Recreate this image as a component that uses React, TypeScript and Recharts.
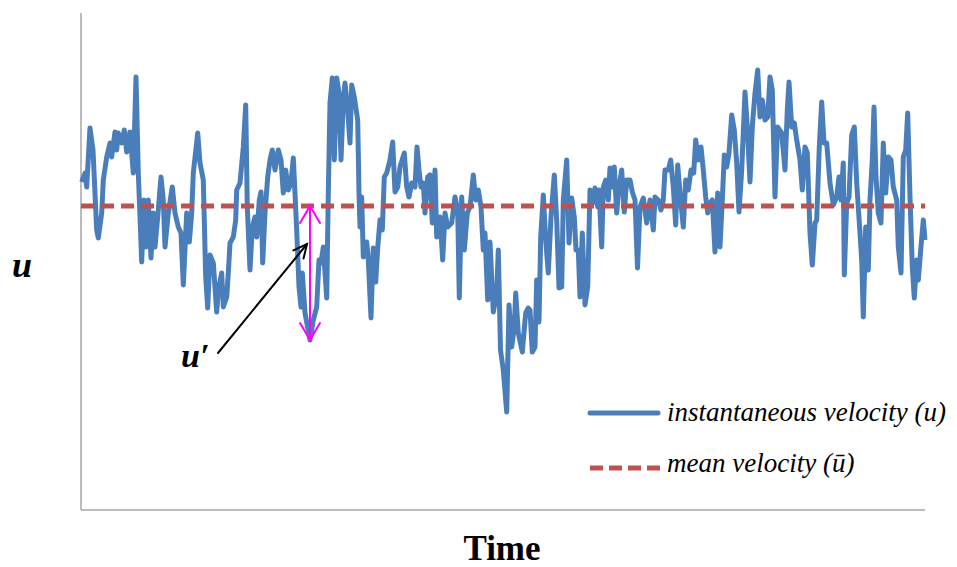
import React from "react";
import { LineChart, Line, XAxis, YAxis, ReferenceLine } from "recharts";

// Velocity signal: time in arbitrary units, u in arbitrary velocity units.
const time = [
  0.7, 4, 5.7, 9, 12, 15.7, 17.3, 20.7, 22.3, 25.7, 29, 30.7, 34, 35.7, 37.3, 40.7, 43.3, 45.7, 49, 52.3,
  55, 57.3, 59, 60.7, 63, 65, 67.3, 70, 72.3, 74, 76.7, 80, 82.3, 84, 87.3, 91.3, 94, 97.3, 100, 102.3,
  105.7, 108.3, 110.7, 112.3, 116.7, 119, 122.3, 124.7, 126.7, 129, 132.3, 135.7, 137.3, 140.7, 142.3, 145.7, 147.3, 149, 152.3, 154.7,
  155.7, 159, 162.3, 164.7, 166.3, 169, 171.3, 174, 175.7, 178.3, 180, 181.7, 184, 186.7, 189, 191.3, 194, 197.3, 200, 202.3,
  204.7, 207.3, 210, 212.3, 214, 215.7, 218, 220, 221.3, 224, 229, 232.3, 235.7, 238, 240, 242.3, 245.7, 247.3, 249, 251.3,
  253.3, 255.7, 258, 260, 262.3, 264, 266.7, 269, 270.7, 273.3, 276.7, 278, 279, 280.7, 282.3, 285.7, 287.3, 290, 292.3, 294.7,
  296.7, 299, 301.3, 303.3, 305.7, 309, 311.7, 314, 316.7, 319, 323.3, 325.7, 328, 330.7, 334, 336, 338, 340, 342.3, 344,
  346.7, 349, 351.3, 354, 355.7, 359, 361.7, 364, 366.7, 370.7, 374, 376.7, 378.3, 380.7, 383.3, 386.3, 389, 392.3, 394.7, 397.3,
  400, 402.3, 404, 406.7, 409, 412.3, 415.7, 417.3, 419.5, 422.3, 425.7, 428, 430.7, 433.3, 434.7, 437.3, 441.3, 444.7, 447.3, 449,
  451.3, 454, 455.7, 458, 459.7, 462.3, 464.7, 467.3, 470, 473.3, 475.7, 478, 480.7, 482.3, 485.7, 488, 490.7, 493.3, 495, 497.3,
  499, 501.3, 504, 506.7, 509, 511.7, 514, 516.7, 518, 520.7, 522.3, 524.7, 527.3, 529, 531.3, 533.3, 535.7, 538, 540.7, 543.3,
  545.7, 549, 551.3, 554, 556.5, 559, 562.3, 565.7, 569, 572.3, 574, 577.3, 580, 582.3, 584, 587.3, 589.7, 592.3, 594.7, 596.7,
  599, 602.3, 604.7, 607.3, 610, 612.7, 614.7, 617.3, 620, 622.3, 624.7, 626.7, 629, 631.3, 634, 636.7, 639, 641.3, 643.3, 645.7,
  648, 650.7, 653.3, 655.7, 658, 660.7, 664, 666.3, 669, 671.3, 674, 676.7, 679, 681.3, 684, 686.7, 689, 691.3, 694, 696.5,
  700.7, 704, 706.3, 708, 710.7, 713.3, 715.7, 719, 721.3, 724, 726.3, 729, 731.3, 734, 735.7, 738.3, 740.7, 743, 745.7, 749,
  752.3, 755.7, 758, 760, 762.3, 763.3, 765.7, 768, 770.7, 773.3, 775.7, 779, 780.7, 782.3, 784.7, 787.3, 789, 791.3, 793, 795,
  797.3, 800, 802.3, 804.7, 807.3, 810, 812.3, 815.7, 817.3, 820, 822.3, 824.7, 826.7, 829, 831.3, 833.3, 835.7, 837.3, 839.7, 842.3,
  844,
];

const velocity = [
  32.8, 33.7, 32.3, 38.2, 36.0, 28.0, 27.2, 29.7, 33.0, 35.3, 36.7, 35.3, 37.8, 36.0, 37.7, 36.7, 38.0, 35.8, 37.8, 33.7,
  43.3, 33.7, 29.3, 24.8, 31.0, 26.3, 31.0, 25.2, 29.7, 26.3, 29.3, 33.3, 31.0, 26.3, 29.7, 32.3, 29.7, 28.3, 27.7, 22.5,
  29.7, 26.8, 29.7, 33.7, 37.7, 34.7, 33.0, 23.3, 20.2, 25.5, 24.7, 19.8, 22.0, 23.7, 20.3, 21.3, 23.7, 26.7, 27.3, 29.0,
  32.0, 32.7, 36.3, 40.5, 30.3, 24.0, 28.3, 29.3, 27.3, 31.0, 31.8, 24.7, 29.7, 33.3, 35.0, 36.0, 34.0, 36.0, 35.0, 31.7,
  34.0, 32.0, 32.7, 35.2, 31.7, 28.0, 22.3, 20.3, 23.7, 19.7, 17.0, 19.0, 20.3, 25.0, 24.7, 26.3, 21.2, 31.7, 40.7, 43.2,
  35.0, 43.2, 41.7, 35.0, 41.0, 42.7, 40.0, 36.7, 42.5, 41.3, 39.0, 31.7, 28.3, 31.3, 25.3, 26.8, 25.0, 19.2, 26.2, 22.8,
  26.2, 29.0, 28.0, 33.3, 33.7, 35.0, 36.8, 31.8, 32.3, 34.3, 35.7, 32.3, 31.3, 32.7, 32.3, 36.3, 34.0, 32.3, 32.7, 29.7,
  33.3, 33.5, 28.7, 34.0, 27.3, 29.3, 25.0, 29.7, 28.3, 28.7, 31.3, 30.0, 21.2, 31.3, 26.0, 29.7, 30.3, 33.5, 31.0, 32.0,
  30.3, 26.0, 27.7, 21.0, 26.8, 19.8, 21.7, 26.0, 16.0, 14.0, 9.8, 20.5, 16.3, 18.3, 21.7, 17.7, 15.8, 19.7, 20.2, 20.0,
  15.8, 16.3, 23.0, 18.8, 27.3, 31.5, 27.0, 23.7, 29.3, 33.5, 29.0, 22.2, 22.3, 31.0, 35.0, 26.7, 31.2, 29.3, 26.0, 26.0,
  21.3, 27.7, 20.5, 22.3, 32.0, 30.7, 32.2, 30.3, 32.0, 26.3, 32.3, 33.0, 31.0, 34.2, 32.3, 34.3, 29.7, 32.3, 34.0, 29.8,
  33.0, 33.0, 31.8, 31.0, 24.2, 30.3, 31.2, 28.7, 31.0, 28.0, 31.3, 31.0, 30.0, 31.0, 34.0, 34.0, 35.0, 32.3, 28.5, 34.5,
  31.7, 28.3, 33.0, 32.0, 34.0, 33.7, 37.0, 35.0, 36.3, 34.0, 31.3, 29.7, 30.7, 31.0, 25.8, 31.7, 26.3, 31.0, 35.5, 34.3,
  35.7, 39.5, 38.0, 34.7, 29.8, 34.0, 41.8, 38.3, 32.8, 38.3, 41.7, 44.0, 39.3, 41.0, 39.0, 39.3, 43.3, 42.0, 31.3, 38.3,
  37.7, 34.0, 40.0, 42.8, 38.3, 38.7, 37.0, 35.0, 32.0, 36.3, 35.7, 27.7, 24.5, 28.7, 29.0, 36.3, 40.8, 36.7, 36.7, 32.7,
  30.5, 31.3, 33.3, 31.0, 34.7, 23.5, 30.7, 31.3, 37.5, 38.3, 32.7, 27.7, 25.0, 19.3, 28.3, 24.0, 31.0, 35.0, 40.3, 33.3,
  29.7, 28.7, 36.7, 31.7, 35.3, 35.0, 32.3, 31.0, 26.3, 23.7, 35.3, 36.0, 39.7, 31.3, 24.3, 21.2, 25.0, 23.0, 26.0, 29.0,
  27.0,
];

const meanVelocity = 30.4;

// u' annotation: deepest dip below the mean, and the pointer to it
const dipTime = 229;
const dipVelocity = 17.0;
const pointerFrom = { x: 137, y: 15.7 };
const pointerTo = { x: 226, y: 26.6 };

const data = time.map((t, i) => ({ t, u: velocity[i] }));

const BLUE = "#4a7ebb";
const RED = "#c0504d";
const AXIS = "#a6a6a6";
const SERIF = '"Liberation Serif", "Times New Roman", serif';

// double-headed magenta arrow (open heads)
function DoubleArrow(props: any) {
  const { x1, y1, x2, y2 } = props;
  const top = Math.min(y1, y2);
  const bot = Math.max(y1, y2);
  return (
    <g stroke="#ff00ff" strokeWidth={2} fill="none" strokeLinecap="round">
      <line x1={x1} y1={top} x2={x2} y2={bot} />
      <polyline points={`${x1 - 10},${top + 17} ${x1},${top} ${x1 + 10},${top + 17}`} />
      <polyline points={`${x1 - 10},${bot - 17} ${x1},${bot} ${x1 + 10},${bot - 17}`} />
    </g>
  );
}

function Pointer(props: any) {
  const { x1, y1, x2, y2 } = props;
  const ang = Math.atan2(y2 - y1, x2 - x1);
  const len = 15;
  const spread = 0.45;
  const ax = x2 - len * Math.cos(ang - spread);
  const ay = y2 - len * Math.sin(ang - spread);
  const bx = x2 - len * Math.cos(ang + spread);
  const by = y2 - len * Math.sin(ang + spread);
  return (
    <g stroke="#000" strokeWidth={2} fill="none" strokeLinecap="round">
      <line x1={x1} y1={y1} x2={x2} y2={y2} />
      <polyline points={`${ax},${ay} ${x2},${y2} ${bx},${by}`} />
    </g>
  );
}

export default function App() {
  return (
    <div
      style={{
        position: "absolute",
        left: 0,
        top: 0,
        width: 957,
        height: 567,
        background: "#fff",
        fontFamily: SERIF,
      }}
    >
      <LineChart width={957} height={567} data={data} margin={{ top: 13, right: 32, bottom: 57, left: 81 }}>
        <XAxis type="number" dataKey="t" domain={[0, 844]} hide />
        <YAxis type="number" domain={[0, 49.7]} hide />
        {/* plain axis lines, no ticks */}
        <ReferenceLine x={0} stroke={AXIS} strokeWidth={1.5} />
        <ReferenceLine y={0} stroke={AXIS} strokeWidth={1.5} />
        <Line
          type="linear"
          dataKey="u"
          stroke={BLUE}
          strokeWidth={5}
          strokeLinejoin="round"
          dot={false}
          activeDot={false}
          isAnimationActive={false}
        />
        <ReferenceLine y={meanVelocity} stroke={RED} strokeWidth={5} strokeDasharray="13 7" />
        <ReferenceLine
          segment={[
            { x: dipTime, y: meanVelocity },
            { x: dipTime, y: dipVelocity },
          ]}
          shape={DoubleArrow}
        />
        <ReferenceLine segment={[pointerFrom, pointerTo]} shape={Pointer} />
      </LineChart>

      <svg width={957} height={567} style={{ position: "absolute", left: 0, top: 0, pointerEvents: "none" }}>
        <text x={12} y={277} fontFamily={SERIF} fontSize={36} fontStyle="italic" fontWeight="bold">
          u
        </text>
        <text x={181} y={367} fontFamily={SERIF} fontSize={34} fontStyle="italic" fontWeight="bold">
          u′
        </text>
        <text x={502} y={560} fontFamily={SERIF} fontSize={35} fontWeight="bold" textAnchor="middle">
          Time
        </text>

        <line x1={590} y1={413} x2={658} y2={413} stroke={BLUE} strokeWidth={5} strokeLinecap="round" />
        <text x={667} y={421} fontFamily={SERIF} fontSize={27} fontStyle="italic">
          instantaneous velocity (u)
        </text>
        <line x1={590} y1={468} x2={660} y2={468} stroke={RED} strokeWidth={5} strokeDasharray="13 6" />
        <text x={667} y={472} fontFamily={SERIF} fontSize={27} fontStyle="italic">
          mean velocity (ū)
        </text>
      </svg>
    </div>
  );
}
